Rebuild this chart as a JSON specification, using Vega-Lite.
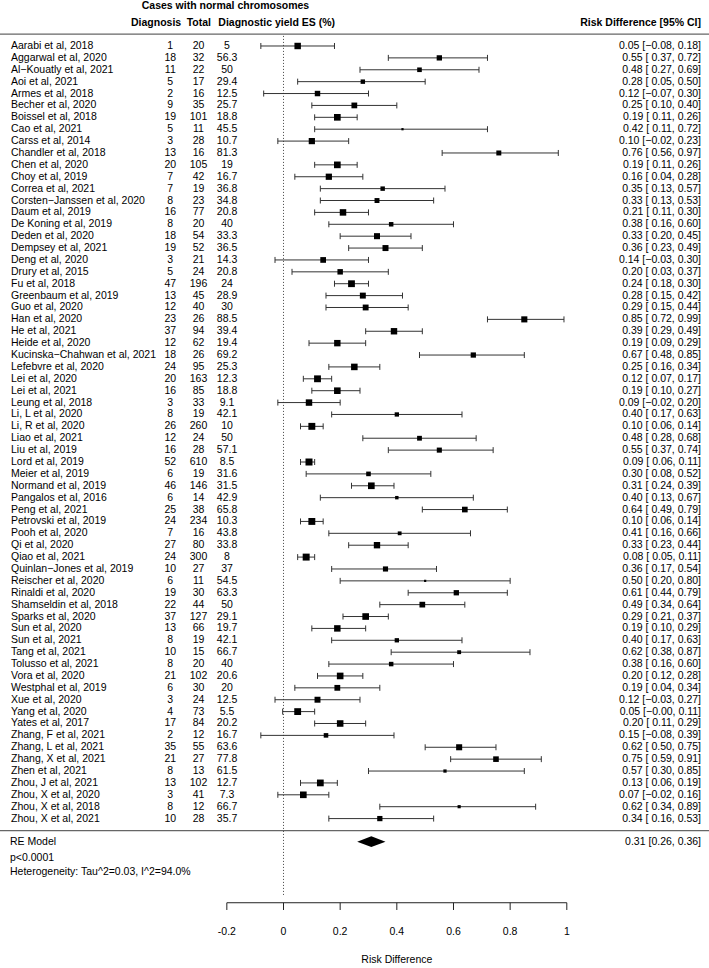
{
  "$schema": "https://vega.github.io/schema/vega-lite/v6.json",
  "width": 709,
  "height": 968,
  "autosize": {"type": "none"},
  "padding": 0,
  "background": "white",
  "config": {
    "view": {"stroke": null},
    "font": "Liberation Sans",
    "text": {"font": "Liberation Sans", "fontSize": 10.5, "color": "black"}
  },
  "datasets": {
    "studies": [
      {"s": "Aarabi et al, 2018", "r": 1, "d": 1, "n": 20, "es": 5, "rd": 0.05, "lo": -0.08, "hi": 0.18, "w": 1.68, "ci": "0.05 [−0.08, 0.18]"},
      {"s": "Aggarwal et al, 2020", "r": 2, "d": 18, "n": 32, "es": 56.3, "rd": 0.55, "lo": 0.37, "hi": 0.72, "w": 1.44, "ci": "0.55 [ 0.37, 0.72]"},
      {"s": "Al−Kouatly et al, 2021", "r": 3, "d": 11, "n": 22, "es": 50, "rd": 0.48, "lo": 0.27, "hi": 0.69, "w": 1.32, "ci": "0.48 [ 0.27, 0.69]"},
      {"s": "Aoi et al, 2021", "r": 4, "d": 5, "n": 17, "es": 29.4, "rd": 0.28, "lo": 0.05, "hi": 0.50, "w": 1.29, "ci": "0.28 [ 0.05, 0.50]"},
      {"s": "Armes et al, 2018", "r": 5, "d": 2, "n": 16, "es": 12.5, "rd": 0.12, "lo": -0.07, "hi": 0.30, "w": 1.47, "ci": "0.12 [−0.07, 0.30]"},
      {"s": "Becher et al, 2020", "r": 6, "d": 9, "n": 35, "es": 25.7, "rd": 0.25, "lo": 0.10, "hi": 0.40, "w": 1.53, "ci": "0.25 [ 0.10, 0.40]"},
      {"s": "Boissel et al, 2018", "r": 7, "d": 19, "n": 101, "es": 18.8, "rd": 0.19, "lo": 0.11, "hi": 0.26, "w": 1.73, "ci": "0.19 [ 0.11, 0.26]"},
      {"s": "Cao et al, 2021", "r": 8, "d": 5, "n": 11, "es": 45.5, "rd": 0.42, "lo": 0.11, "hi": 0.72, "w": 1.03, "ci": "0.42 [ 0.11, 0.72]"},
      {"s": "Carss et al, 2014", "r": 9, "d": 3, "n": 28, "es": 10.7, "rd": 0.10, "lo": -0.02, "hi": 0.23, "w": 1.63, "ci": "0.10 [−0.02, 0.23]"},
      {"s": "Chandler et al, 2018", "r": 10, "d": 13, "n": 16, "es": 81.3, "rd": 0.76, "lo": 0.56, "hi": 0.97, "w": 1.38, "ci": "0.76 [ 0.56, 0.97]"},
      {"s": "Chen et al, 2020", "r": 11, "d": 20, "n": 105, "es": 19, "rd": 0.19, "lo": 0.11, "hi": 0.26, "w": 1.73, "ci": "0.19 [ 0.11, 0.26]"},
      {"s": "Choy et al, 2019", "r": 12, "d": 7, "n": 42, "es": 16.7, "rd": 0.16, "lo": 0.04, "hi": 0.28, "w": 1.63, "ci": "0.16 [ 0.04, 0.28]"},
      {"s": "Correa et al, 2021", "r": 13, "d": 7, "n": 19, "es": 36.8, "rd": 0.35, "lo": 0.13, "hi": 0.57, "w": 1.29, "ci": "0.35 [ 0.13, 0.57]"},
      {"s": "Corsten−Janssen et al, 2020", "r": 14, "d": 8, "n": 23, "es": 34.8, "rd": 0.33, "lo": 0.13, "hi": 0.53, "w": 1.37, "ci": "0.33 [ 0.13, 0.53]"},
      {"s": "Daum et al, 2019", "r": 15, "d": 16, "n": 77, "es": 20.8, "rd": 0.21, "lo": 0.11, "hi": 0.30, "w": 1.69, "ci": "0.21 [ 0.11, 0.30]"},
      {"s": "De Koning et al, 2019", "r": 16, "d": 8, "n": 20, "es": 40, "rd": 0.38, "lo": 0.16, "hi": 0.60, "w": 1.30, "ci": "0.38 [ 0.16, 0.60]"},
      {"s": "Deden et al, 2020", "r": 17, "d": 18, "n": 54, "es": 33.3, "rd": 0.33, "lo": 0.20, "hi": 0.45, "w": 1.59, "ci": "0.33 [ 0.20, 0.45]"},
      {"s": "Dempsey et al, 2021", "r": 18, "d": 19, "n": 52, "es": 36.5, "rd": 0.36, "lo": 0.23, "hi": 0.49, "w": 1.58, "ci": "0.36 [ 0.23, 0.49]"},
      {"s": "Deng et al, 2020", "r": 19, "d": 3, "n": 21, "es": 14.3, "rd": 0.14, "lo": -0.03, "hi": 0.30, "w": 1.52, "ci": "0.14 [−0.03, 0.30]"},
      {"s": "Drury et al, 2015", "r": 20, "d": 5, "n": 24, "es": 20.8, "rd": 0.20, "lo": 0.03, "hi": 0.37, "w": 1.47, "ci": "0.20 [ 0.03, 0.37]"},
      {"s": "Fu et al, 2018", "r": 21, "d": 47, "n": 196, "es": 24, "rd": 0.24, "lo": 0.18, "hi": 0.30, "w": 1.76, "ci": "0.24 [ 0.18, 0.30]"},
      {"s": "Greenbaum et al, 2019", "r": 22, "d": 13, "n": 45, "es": 28.9, "rd": 0.28, "lo": 0.15, "hi": 0.42, "w": 1.57, "ci": "0.28 [ 0.15, 0.42]"},
      {"s": "Guo et al, 2020", "r": 23, "d": 12, "n": 40, "es": 30, "rd": 0.29, "lo": 0.15, "hi": 0.44, "w": 1.55, "ci": "0.29 [ 0.15, 0.44]"},
      {"s": "Han et al, 2020", "r": 24, "d": 23, "n": 26, "es": 88.5, "rd": 0.85, "lo": 0.72, "hi": 0.99, "w": 1.60, "ci": "0.85 [ 0.72, 0.99]"},
      {"s": "He et al, 2021", "r": 25, "d": 37, "n": 94, "es": 39.4, "rd": 0.39, "lo": 0.29, "hi": 0.49, "w": 1.67, "ci": "0.39 [ 0.29, 0.49]"},
      {"s": "Heide et al, 2020", "r": 26, "d": 12, "n": 62, "es": 19.4, "rd": 0.19, "lo": 0.09, "hi": 0.29, "w": 1.67, "ci": "0.19 [ 0.09, 0.29]"},
      {"s": "Kucinska−Chahwan et al, 2021", "r": 27, "d": 18, "n": 26, "es": 69.2, "rd": 0.67, "lo": 0.48, "hi": 0.85, "w": 1.43, "ci": "0.67 [ 0.48, 0.85]"},
      {"s": "Lefebvre et al, 2020", "r": 28, "d": 24, "n": 95, "es": 25.3, "rd": 0.25, "lo": 0.16, "hi": 0.34, "w": 1.70, "ci": "0.25 [ 0.16, 0.34]"},
      {"s": "Lei et al, 2020", "r": 29, "d": 20, "n": 163, "es": 12.3, "rd": 0.12, "lo": 0.07, "hi": 0.17, "w": 1.77, "ci": "0.12 [ 0.07, 0.17]"},
      {"s": "Lei et al, 2021", "r": 30, "d": 16, "n": 85, "es": 18.8, "rd": 0.19, "lo": 0.10, "hi": 0.27, "w": 1.71, "ci": "0.19 [ 0.10, 0.27]"},
      {"s": "Leung et al, 2018", "r": 31, "d": 3, "n": 33, "es": 9.1, "rd": 0.09, "lo": -0.02, "hi": 0.20, "w": 1.68, "ci": "0.09 [−0.02, 0.20]"},
      {"s": "Li, L et al, 2020", "r": 32, "d": 8, "n": 19, "es": 42.1, "rd": 0.40, "lo": 0.17, "hi": 0.63, "w": 1.27, "ci": "0.40 [ 0.17, 0.63]"},
      {"s": "Li, R et al, 2020", "r": 33, "d": 26, "n": 260, "es": 10, "rd": 0.10, "lo": 0.06, "hi": 0.14, "w": 1.79, "ci": "0.10 [ 0.06, 0.14]"},
      {"s": "Liao et al, 2021", "r": 34, "d": 12, "n": 24, "es": 50, "rd": 0.48, "lo": 0.28, "hi": 0.68, "w": 1.35, "ci": "0.48 [ 0.28, 0.68]"},
      {"s": "Liu et al, 2019", "r": 35, "d": 16, "n": 28, "es": 57.1, "rd": 0.55, "lo": 0.37, "hi": 0.74, "w": 1.40, "ci": "0.55 [ 0.37, 0.74]"},
      {"s": "Lord et al, 2019", "r": 36, "d": 52, "n": 610, "es": 8.5, "rd": 0.09, "lo": 0.06, "hi": 0.11, "w": 1.81, "ci": "0.09 [ 0.06, 0.11]"},
      {"s": "Meier et al, 2019", "r": 37, "d": 6, "n": 19, "es": 31.6, "rd": 0.30, "lo": 0.08, "hi": 0.52, "w": 1.32, "ci": "0.30 [ 0.08, 0.52]"},
      {"s": "Normand et al, 2019", "r": 38, "d": 46, "n": 146, "es": 31.5, "rd": 0.31, "lo": 0.24, "hi": 0.39, "w": 1.73, "ci": "0.31 [ 0.24, 0.39]"},
      {"s": "Pangalos et al, 2016", "r": 39, "d": 6, "n": 14, "es": 42.9, "rd": 0.40, "lo": 0.13, "hi": 0.67, "w": 1.15, "ci": "0.40 [ 0.13, 0.67]"},
      {"s": "Peng et al, 2021", "r": 40, "d": 25, "n": 38, "es": 65.8, "rd": 0.64, "lo": 0.49, "hi": 0.79, "w": 1.51, "ci": "0.64 [ 0.49, 0.79]"},
      {"s": "Petrovski et al, 2019", "r": 41, "d": 24, "n": 234, "es": 10.3, "rd": 0.10, "lo": 0.06, "hi": 0.14, "w": 1.79, "ci": "0.10 [ 0.06, 0.14]"},
      {"s": "Pooh et al, 2020", "r": 42, "d": 7, "n": 16, "es": 43.8, "rd": 0.41, "lo": 0.16, "hi": 0.66, "w": 1.20, "ci": "0.41 [ 0.16, 0.66]"},
      {"s": "Qi et al, 2020", "r": 43, "d": 27, "n": 80, "es": 33.8, "rd": 0.33, "lo": 0.23, "hi": 0.44, "w": 1.66, "ci": "0.33 [ 0.23, 0.44]"},
      {"s": "Qiao et al, 2021", "r": 44, "d": 24, "n": 300, "es": 8, "rd": 0.08, "lo": 0.05, "hi": 0.11, "w": 1.80, "ci": "0.08 [ 0.05, 0.11]"},
      {"s": "Quinlan−Jones et al, 2019", "r": 45, "d": 10, "n": 27, "es": 37, "rd": 0.36, "lo": 0.17, "hi": 0.54, "w": 1.41, "ci": "0.36 [ 0.17, 0.54]"},
      {"s": "Reischer et al, 2020", "r": 46, "d": 6, "n": 11, "es": 54.5, "rd": 0.50, "lo": 0.20, "hi": 0.80, "w": 1.03, "ci": "0.50 [ 0.20, 0.80]"},
      {"s": "Rinaldi et al, 2020", "r": 47, "d": 19, "n": 30, "es": 63.3, "rd": 0.61, "lo": 0.44, "hi": 0.79, "w": 1.44, "ci": "0.61 [ 0.44, 0.79]"},
      {"s": "Shamseldin et al, 2018", "r": 48, "d": 22, "n": 44, "es": 50, "rd": 0.49, "lo": 0.34, "hi": 0.64, "w": 1.52, "ci": "0.49 [ 0.34, 0.64]"},
      {"s": "Sparks et al, 2020", "r": 49, "d": 37, "n": 127, "es": 29.1, "rd": 0.29, "lo": 0.21, "hi": 0.37, "w": 1.72, "ci": "0.29 [ 0.21, 0.37]"},
      {"s": "Sun et al, 2020", "r": 50, "d": 13, "n": 66, "es": 19.7, "rd": 0.19, "lo": 0.10, "hi": 0.29, "w": 1.68, "ci": "0.19 [ 0.10, 0.29]"},
      {"s": "Sun et al, 2021", "r": 51, "d": 8, "n": 19, "es": 42.1, "rd": 0.40, "lo": 0.17, "hi": 0.63, "w": 1.27, "ci": "0.40 [ 0.17, 0.63]"},
      {"s": "Tang et al, 2021", "r": 52, "d": 10, "n": 15, "es": 66.7, "rd": 0.62, "lo": 0.38, "hi": 0.87, "w": 1.21, "ci": "0.62 [ 0.38, 0.87]"},
      {"s": "Tolusso et al, 2021", "r": 53, "d": 8, "n": 20, "es": 40, "rd": 0.38, "lo": 0.16, "hi": 0.60, "w": 1.30, "ci": "0.38 [ 0.16, 0.60]"},
      {"s": "Vora et al, 2020", "r": 54, "d": 21, "n": 102, "es": 20.6, "rd": 0.20, "lo": 0.12, "hi": 0.28, "w": 1.72, "ci": "0.20 [ 0.12, 0.28]"},
      {"s": "Westphal et al, 2019", "r": 55, "d": 6, "n": 30, "es": 20, "rd": 0.19, "lo": 0.04, "hi": 0.34, "w": 1.54, "ci": "0.19 [ 0.04, 0.34]"},
      {"s": "Xue et al, 2020", "r": 56, "d": 3, "n": 24, "es": 12.5, "rd": 0.12, "lo": -0.03, "hi": 0.27, "w": 1.57, "ci": "0.12 [−0.03, 0.27]"},
      {"s": "Yang et al, 2020", "r": 57, "d": 4, "n": 73, "es": 5.5, "rd": 0.05, "lo": -0.003, "hi": 0.11, "w": 1.77, "ci": "0.05 [−0.00, 0.11]"},
      {"s": "Yates et al, 2017", "r": 58, "d": 17, "n": 84, "es": 20.2, "rd": 0.20, "lo": 0.11, "hi": 0.29, "w": 1.70, "ci": "0.20 [ 0.11, 0.29]"},
      {"s": "Zhang, F et al, 2021", "r": 59, "d": 2, "n": 12, "es": 16.7, "rd": 0.15, "lo": -0.08, "hi": 0.39, "w": 1.31, "ci": "0.15 [−0.08, 0.39]"},
      {"s": "Zhang, L et al, 2021", "r": 60, "d": 35, "n": 55, "es": 63.6, "rd": 0.62, "lo": 0.50, "hi": 0.75, "w": 1.59, "ci": "0.62 [ 0.50, 0.75]"},
      {"s": "Zhang, X et al, 2021", "r": 61, "d": 21, "n": 27, "es": 77.8, "rd": 0.75, "lo": 0.59, "hi": 0.91, "w": 1.50, "ci": "0.75 [ 0.59, 0.91]"},
      {"s": "Zhen et al, 2021", "r": 62, "d": 8, "n": 13, "es": 61.5, "rd": 0.57, "lo": 0.30, "hi": 0.85, "w": 1.13, "ci": "0.57 [ 0.30, 0.85]"},
      {"s": "Zhou, J et al, 2021", "r": 63, "d": 13, "n": 102, "es": 12.7, "rd": 0.13, "lo": 0.06, "hi": 0.19, "w": 1.75, "ci": "0.13 [ 0.06, 0.19]"},
      {"s": "Zhou, X et al, 2020", "r": 64, "d": 3, "n": 41, "es": 7.3, "rd": 0.07, "lo": -0.02, "hi": 0.16, "w": 1.72, "ci": "0.07 [−0.02, 0.16]"},
      {"s": "Zhou, X et al, 2018", "r": 65, "d": 8, "n": 12, "es": 66.7, "rd": 0.62, "lo": 0.34, "hi": 0.89, "w": 1.12, "ci": "0.62 [ 0.34, 0.89]"},
      {"s": "Zhou, X et al, 2021", "r": 66, "d": 10, "n": 28, "es": 35.7, "rd": 0.34, "lo": 0.16, "hi": 0.53, "w": 1.43, "ci": "0.34 [ 0.16, 0.53]"}
    ],
    "summary": [
      {"label": "RE Model", "r": 67.94, "rd": 0.31, "lo": 0.26, "hi": 0.36, "ci": "0.31 [0.26, 0.36]", "p": "p<0.0001", "het": "Heterogeneity: Tau^2=0.03, I^2=94.0%"}
    ],
    "ticks": [{"v": -0.2}, {"v": 0}, {"v": 0.2}, {"v": 0.4}, {"v": 0.6}, {"v": 0.8}, {"v": 1}]
  },
  "layer": [
    {
      "data": {"values": [{}]},
      "mark": {"type": "rule", "color": "#666666", "strokeWidth": 1.3},
      "encoding": {
        "x": {"datum": -1.0007, "type": "quantitative", "scale": {"domain": [-1.0007, 1.5019], "nice": false, "zero": false}, "axis": null},
        "x2": {"datum": 1.5019},
        "y": {"datum": 0.0, "type": "quantitative", "scale": {"domain": [-2.87, 78.571], "nice": false, "zero": false, "reverse": true}, "axis": null}
      }
    },
    {
      "data": {"values": [{}]},
      "mark": {"type": "rule", "color": "#666666", "strokeWidth": 1.3},
      "encoding": {
        "x": {"datum": -1.0007, "type": "quantitative", "scale": {"domain": [-1.0007, 1.5019], "nice": false, "zero": false}, "axis": null},
        "x2": {"datum": 1.5019},
        "y": {"datum": 67.02, "type": "quantitative", "scale": {"domain": [-2.87, 78.571], "nice": false, "zero": false, "reverse": true}, "axis": null}
      }
    },
    {
      "data": {"values": [{}]},
      "mark": {"type": "rule", "color": "#444444", "strokeWidth": 1, "strokeDash": [1, 2]},
      "encoding": {
        "x": {"datum": 0, "type": "quantitative", "scale": {"domain": [-1.0007, 1.5019], "nice": false, "zero": false}, "axis": null},
        "y": {"datum": 0.15, "type": "quantitative", "scale": {"domain": [-2.87, 78.571], "nice": false, "zero": false, "reverse": true}, "axis": null},
        "y2": {"datum": 72.57}
      }
    },
    {
      "data": {"name": "studies"},
      "mark": {"type": "rule", "color": "#333333", "strokeWidth": 1},
      "encoding": {
        "x": {"field": "lo", "type": "quantitative", "scale": {"domain": [-1.0007, 1.5019], "nice": false, "zero": false}, "axis": null},
        "x2": {"field": "hi"},
        "y": {"field": "r", "type": "quantitative", "scale": {"domain": [-2.87, 78.571], "nice": false, "zero": false, "reverse": true}, "axis": null}
      }
    },
    {
      "data": {"name": "studies"},
      "mark": {"type": "point", "shape": "M0,-1L0,1", "size": 36, "filled": false, "stroke": "#333333", "strokeWidth": 1, "opacity": 1},
      "encoding": {
        "x": {"field": "lo", "type": "quantitative", "scale": {"domain": [-1.0007, 1.5019], "nice": false, "zero": false}, "axis": null},
        "y": {"field": "r", "type": "quantitative", "scale": {"domain": [-2.87, 78.571], "nice": false, "zero": false, "reverse": true}, "axis": null}
      }
    },
    {
      "data": {"name": "studies"},
      "mark": {"type": "point", "shape": "M0,-1L0,1", "size": 36, "filled": false, "stroke": "#333333", "strokeWidth": 1, "opacity": 1},
      "encoding": {
        "x": {"field": "hi", "type": "quantitative", "scale": {"domain": [-1.0007, 1.5019], "nice": false, "zero": false}, "axis": null},
        "y": {"field": "r", "type": "quantitative", "scale": {"domain": [-2.87, 78.571], "nice": false, "zero": false, "reverse": true}, "axis": null}
      }
    },
    {
      "data": {"name": "studies"},
      "mark": {"type": "point", "shape": "square", "filled": true, "color": "black", "opacity": 1},
      "encoding": {
        "x": {"field": "rd", "type": "quantitative", "scale": {"domain": [-1.0007, 1.5019], "nice": false, "zero": false}, "axis": null},
        "y": {"field": "r", "type": "quantitative", "scale": {"domain": [-2.87, 78.571], "nice": false, "zero": false, "reverse": true}, "axis": null},
        "size": {"field": "w", "type": "quantitative", "scale": {"domain": [1.03, 1.81], "range": [5, 49]}, "legend": null}
      }
    },
    {
      "data": {"name": "studies"},
      "mark": {"type": "text", "align": "left", "baseline": "middle"},
      "encoding": {
        "x": {"datum": -0.9619, "type": "quantitative", "scale": {"domain": [-1.0007, 1.5019], "nice": false, "zero": false}, "axis": null},
        "y": {"field": "r", "type": "quantitative", "scale": {"domain": [-2.87, 78.571], "nice": false, "zero": false, "reverse": true}, "axis": null},
        "text": {"field": "s", "type": "nominal"}
      }
    },
    {
      "data": {"name": "studies"},
      "mark": {"type": "text", "align": "center", "baseline": "middle"},
      "encoding": {
        "x": {"datum": -0.3996, "type": "quantitative", "scale": {"domain": [-1.0007, 1.5019], "nice": false, "zero": false}, "axis": null},
        "y": {"field": "r", "type": "quantitative", "scale": {"domain": [-2.87, 78.571], "nice": false, "zero": false, "reverse": true}, "axis": null},
        "text": {"field": "d", "type": "nominal"}
      }
    },
    {
      "data": {"name": "studies"},
      "mark": {"type": "text", "align": "center", "baseline": "middle"},
      "encoding": {
        "x": {"datum": -0.3, "type": "quantitative", "scale": {"domain": [-1.0007, 1.5019], "nice": false, "zero": false}, "axis": null},
        "y": {"field": "r", "type": "quantitative", "scale": {"domain": [-2.87, 78.571], "nice": false, "zero": false, "reverse": true}, "axis": null},
        "text": {"field": "n", "type": "nominal"}
      }
    },
    {
      "data": {"name": "studies"},
      "mark": {"type": "text", "align": "center", "baseline": "middle"},
      "encoding": {
        "x": {"datum": -0.1994, "type": "quantitative", "scale": {"domain": [-1.0007, 1.5019], "nice": false, "zero": false}, "axis": null},
        "y": {"field": "r", "type": "quantitative", "scale": {"domain": [-2.87, 78.571], "nice": false, "zero": false, "reverse": true}, "axis": null},
        "text": {"field": "es", "type": "nominal"}
      }
    },
    {
      "data": {"name": "studies"},
      "mark": {"type": "text", "align": "right", "baseline": "middle"},
      "encoding": {
        "x": {"datum": 1.4737, "type": "quantitative", "scale": {"domain": [-1.0007, 1.5019], "nice": false, "zero": false}, "axis": null},
        "y": {"field": "r", "type": "quantitative", "scale": {"domain": [-2.87, 78.571], "nice": false, "zero": false, "reverse": true}, "axis": null},
        "text": {"field": "ci", "type": "nominal"}
      }
    },
    {
      "data": {"values": [{}]},
      "mark": {"type": "text", "align": "left", "baseline": "middle", "fontWeight": "bold", "text": "Cases with normal chromosomes"},
      "encoding": {
        "x": {"datum": -0.5005, "type": "quantitative", "scale": {"domain": [-1.0007, 1.5019], "nice": false, "zero": false}, "axis": null},
        "y": {"datum": -2.365, "type": "quantitative", "scale": {"domain": [-2.87, 78.571], "nice": false, "zero": false, "reverse": true}, "axis": null}
      }
    },
    {
      "data": {"values": [{}]},
      "mark": {"type": "text", "align": "left", "baseline": "middle", "fontWeight": "bold", "text": "Diagnosis"},
      "encoding": {
        "x": {"datum": -0.5383, "type": "quantitative", "scale": {"domain": [-1.0007, 1.5019], "nice": false, "zero": false}, "axis": null},
        "y": {"datum": -0.935, "type": "quantitative", "scale": {"domain": [-2.87, 78.571], "nice": false, "zero": false, "reverse": true}, "axis": null}
      }
    },
    {
      "data": {"values": [{}]},
      "mark": {"type": "text", "align": "left", "baseline": "middle", "fontWeight": "bold", "text": "Total"},
      "encoding": {
        "x": {"datum": -0.3417, "type": "quantitative", "scale": {"domain": [-1.0007, 1.5019], "nice": false, "zero": false}, "axis": null},
        "y": {"datum": -0.935, "type": "quantitative", "scale": {"domain": [-2.87, 78.571], "nice": false, "zero": false, "reverse": true}, "axis": null}
      }
    },
    {
      "data": {"values": [{}]},
      "mark": {"type": "text", "align": "left", "baseline": "middle", "fontWeight": "bold", "text": "Diagnostic yield ES (%)"},
      "encoding": {
        "x": {"datum": -0.2301, "type": "quantitative", "scale": {"domain": [-1.0007, 1.5019], "nice": false, "zero": false}, "axis": null},
        "y": {"datum": -0.935, "type": "quantitative", "scale": {"domain": [-2.87, 78.571], "nice": false, "zero": false, "reverse": true}, "axis": null}
      }
    },
    {
      "data": {"values": [{}]},
      "mark": {"type": "text", "align": "right", "baseline": "middle", "fontWeight": "bold", "text": "Risk Difference [95% CI]"},
      "encoding": {
        "x": {"datum": 1.4737, "type": "quantitative", "scale": {"domain": [-1.0007, 1.5019], "nice": false, "zero": false}, "axis": null},
        "y": {"datum": -0.935, "type": "quantitative", "scale": {"domain": [-2.87, 78.571], "nice": false, "zero": false, "reverse": true}, "axis": null}
      }
    },
    {
      "data": {"name": "summary"},
      "mark": {"type": "point", "shape": "M-1,0L0,-0.38L1,0L0,0.38Z", "size": 801, "filled": true, "color": "black", "opacity": 1},
      "encoding": {
        "x": {"field": "rd", "type": "quantitative", "scale": {"domain": [-1.0007, 1.5019], "nice": false, "zero": false}, "axis": null},
        "y": {"field": "r", "type": "quantitative", "scale": {"domain": [-2.87, 78.571], "nice": false, "zero": false, "reverse": true}, "axis": null}
      }
    },
    {
      "data": {"name": "summary"},
      "mark": {"type": "text", "align": "left", "baseline": "middle"},
      "encoding": {
        "x": {"datum": -0.9654, "type": "quantitative", "scale": {"domain": [-1.0007, 1.5019], "nice": false, "zero": false}, "axis": null},
        "y": {"field": "r", "type": "quantitative", "scale": {"domain": [-2.87, 78.571], "nice": false, "zero": false, "reverse": true}, "axis": null},
        "text": {"field": "label", "type": "nominal"}
      }
    },
    {
      "data": {"name": "summary"},
      "mark": {"type": "text", "align": "right", "baseline": "middle"},
      "encoding": {
        "x": {"datum": 1.4737, "type": "quantitative", "scale": {"domain": [-1.0007, 1.5019], "nice": false, "zero": false}, "axis": null},
        "y": {"field": "r", "type": "quantitative", "scale": {"domain": [-2.87, 78.571], "nice": false, "zero": false, "reverse": true}, "axis": null},
        "text": {"field": "ci", "type": "nominal"}
      }
    },
    {
      "data": {"name": "summary"},
      "mark": {"type": "text", "align": "left", "baseline": "middle"},
      "encoding": {
        "x": {"datum": -0.9654, "type": "quantitative", "scale": {"domain": [-1.0007, 1.5019], "nice": false, "zero": false}, "axis": null},
        "y": {"datum": 69.34, "type": "quantitative", "scale": {"domain": [-2.87, 78.571], "nice": false, "zero": false, "reverse": true}, "axis": null},
        "text": {"field": "p", "type": "nominal"}
      }
    },
    {
      "data": {"name": "summary"},
      "mark": {"type": "text", "align": "left", "baseline": "middle"},
      "encoding": {
        "x": {"datum": -0.9654, "type": "quantitative", "scale": {"domain": [-1.0007, 1.5019], "nice": false, "zero": false}, "axis": null},
        "y": {"datum": 70.46, "type": "quantitative", "scale": {"domain": [-2.87, 78.571], "nice": false, "zero": false, "reverse": true}, "axis": null},
        "text": {"field": "het", "type": "nominal"}
      }
    },
    {
      "data": {"values": [{}]},
      "mark": {"type": "rule", "color": "#222222", "strokeWidth": 1},
      "encoding": {
        "x": {"datum": -0.2, "type": "quantitative", "scale": {"domain": [-1.0007, 1.5019], "nice": false, "zero": false}, "axis": null},
        "x2": {"datum": 1},
        "y": {"datum": 73.08, "type": "quantitative", "scale": {"domain": [-2.87, 78.571], "nice": false, "zero": false, "reverse": true}, "axis": null}
      }
    },
    {
      "data": {"name": "ticks"},
      "mark": {"type": "rule", "color": "#222222", "strokeWidth": 1},
      "encoding": {
        "x": {"field": "v", "type": "quantitative", "scale": {"domain": [-1.0007, 1.5019], "nice": false, "zero": false}, "axis": null},
        "y": {"datum": 73.08, "type": "quantitative", "scale": {"domain": [-2.87, 78.571], "nice": false, "zero": false, "reverse": true}, "axis": null},
        "y2": {"datum": 73.69}
      }
    },
    {
      "data": {"name": "ticks"},
      "mark": {"type": "text", "align": "center", "baseline": "middle"},
      "encoding": {
        "x": {"field": "v", "type": "quantitative", "scale": {"domain": [-1.0007, 1.5019], "nice": false, "zero": false}, "axis": null},
        "y": {"datum": 75.52, "type": "quantitative", "scale": {"domain": [-2.87, 78.571], "nice": false, "zero": false, "reverse": true}, "axis": null},
        "text": {"field": "v", "type": "nominal"}
      }
    },
    {
      "data": {"values": [{}]},
      "mark": {"type": "text", "align": "center", "baseline": "middle", "text": "Risk Difference"},
      "encoding": {
        "x": {"datum": 0.4, "type": "quantitative", "scale": {"domain": [-1.0007, 1.5019], "nice": false, "zero": false}, "axis": null},
        "y": {"datum": 77.9, "type": "quantitative", "scale": {"domain": [-2.87, 78.571], "nice": false, "zero": false, "reverse": true}, "axis": null}
      }
    }
  ]
}
